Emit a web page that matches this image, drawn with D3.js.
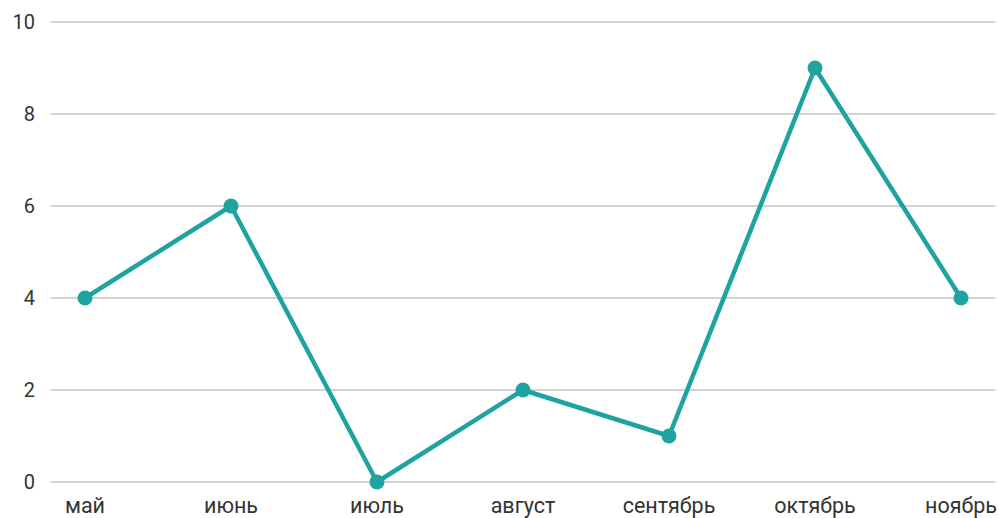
<!DOCTYPE html>
<html><head><meta charset="utf-8">
<script src="https://cdn.jsdelivr.net/npm/d3@7"></script>
<style>body{margin:0;background:#fff}svg{display:block}text{font-family:Roboto,"Liberation Sans",Arial,sans-serif}</style>
</head><body><svg id="c" width="999" height="518"></svg>
<script>
const categories = ["май","июнь","июль","август","сентябрь","октябрь","ноябрь"];
const values = [4,6,0,2,1,9,4];
const yTicks = [0,2,4,6,8,10];

const svg = d3.select("#c");
const x = d3.scalePoint().domain(categories).range([85,961]);
const y = d3.scaleLinear().domain([0,10]).range([482,22]);
const color = "#1fa3a0";

svg.append("g").selectAll("line").data(yTicks).join("line")
  .attr("x1",51).attr("x2",995).attr("y1",d=>y(d)).attr("y2",d=>y(d))
  .attr("stroke","#c4c4c4").attr("stroke-width",1.5);
svg.append("g").selectAll("text").data(yTicks).join("text")
  .attr("x",35).attr("y",d=>y(d)).attr("dy","0.35em").attr("text-anchor","end")
  .attr("font-size",20).attr("fill","#333").text(d=>d);
svg.append("g").selectAll("text").data(categories).join("text")
  .attr("x",d=>x(d)).attr("y",513).attr("text-anchor","middle")
  .attr("font-size",21.5).attr("fill","#333").text(d=>d);

const line = d3.line().x((d,i)=>x(categories[i])).y(d=>y(d));
svg.append("path").datum(values).attr("d",line).attr("fill","none")
  .attr("stroke",color).attr("stroke-width",4.5).attr("stroke-linejoin","round");
svg.append("g").selectAll("circle").data(values).join("circle")
  .attr("cx",(d,i)=>x(categories[i])).attr("cy",d=>y(d)).attr("r",7.5).attr("fill",color);
</script></body></html>
